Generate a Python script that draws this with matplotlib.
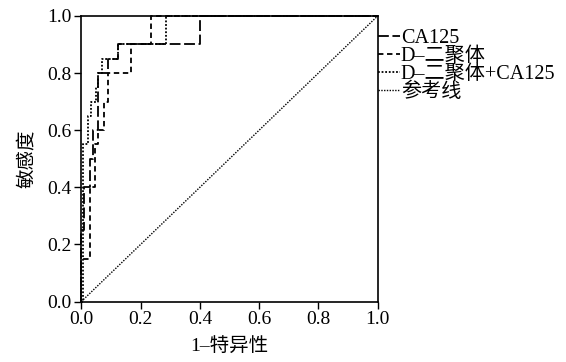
import matplotlib
matplotlib.use('Agg')
import matplotlib.pyplot as plt

plt.rcParams['font.family'] = ['Liberation Serif', 'Noto Sans CJK SC']
plt.rcParams['axes.unicode_minus'] = False

# ROC step curves
ca125_x = [0, 0, 0.01, 0.01, 0.03, 0.03, 0.04, 0.04, 0.057, 0.057, 0.09, 0.09, 0.123, 0.123, 0.40, 0.40, 1.0]
ca125_y = [0, 0.25, 0.25, 0.40, 0.40, 0.50, 0.50, 0.60, 0.60, 0.80, 0.80, 0.85, 0.85, 0.90, 0.90, 1.0, 1.0]

ddimer_x = [0, 0, 0.03, 0.03, 0.046, 0.046, 0.057, 0.057, 0.078, 0.078, 0.091, 0.091, 0.168, 0.168, 0.235, 0.235, 1.0]
ddimer_y = [0, 0.15, 0.15, 0.40, 0.40, 0.55, 0.55, 0.60, 0.60, 0.70, 0.70, 0.80, 0.80, 0.90, 0.90, 1.0, 1.0]

combo_x = [0, 0.007, 0.007, 0.024, 0.024, 0.033, 0.033, 0.049, 0.049, 0.057, 0.057, 0.069, 0.069, 0.123, 0.123, 0.286, 0.286, 1.0]
combo_y = [0, 0, 0.55, 0.55, 0.65, 0.65, 0.70, 0.70, 0.75, 0.75, 0.80, 0.80, 0.85, 0.85, 0.90, 0.90, 1.0, 1.0]

ref_x = [0, 1]
ref_y = [0, 1]

labels = ['CA125', 'D–二聚体', 'D–二聚体+CA125', '参考线']
ticks = [0.0, 0.2, 0.4, 0.6, 0.8, 1.0]

fig = plt.figure(figsize=(5.66, 3.62), dpi=100)
ax = fig.add_axes([0.1437, 0.167, 0.5236, 0.789])

ax.plot(ca125_x, ca125_y, color='black', lw=1.3, ls=(0, (6, 2)), clip_on=False, label=labels[0])
ax.plot(ddimer_x, ddimer_y, color='black', lw=1.3, ls=(0, (3, 2)), clip_on=False, label=labels[1])
ax.plot(combo_x, combo_y, color='black', lw=1.3, ls=(0, (1, 1)), clip_on=False, label=labels[2])
ax.plot(ref_x, ref_y, color='black', lw=1.0, ls=(0, (1, 1)), clip_on=False, label=labels[3])

ax.set_xlim(0, 1)
ax.set_ylim(0, 1)
ax.set_xticks(ticks)
ax.set_yticks(ticks)
ax.set_xticklabels(['%.1f' % t for t in ticks])
ax.set_yticklabels(['%.1f' % t for t in ticks])
ax.tick_params(direction='out', length=5, width=1, labelsize=14, pad=2)
for s in ax.spines.values():
    s.set_linewidth(1.2)

ax.set_xlabel('1–特异性', fontsize=14, labelpad=7)
ax.set_ylabel('敏感度', fontsize=14, labelpad=8)

ax.legend(loc='upper left', bbox_to_anchor=(1.0, 0.955), frameon=False, fontsize=14.5,
          handlelength=1.1, handletextpad=0.05, labelspacing=-0.05, borderpad=0, borderaxespad=0)

fig.savefig('out.png', dpi=100)
